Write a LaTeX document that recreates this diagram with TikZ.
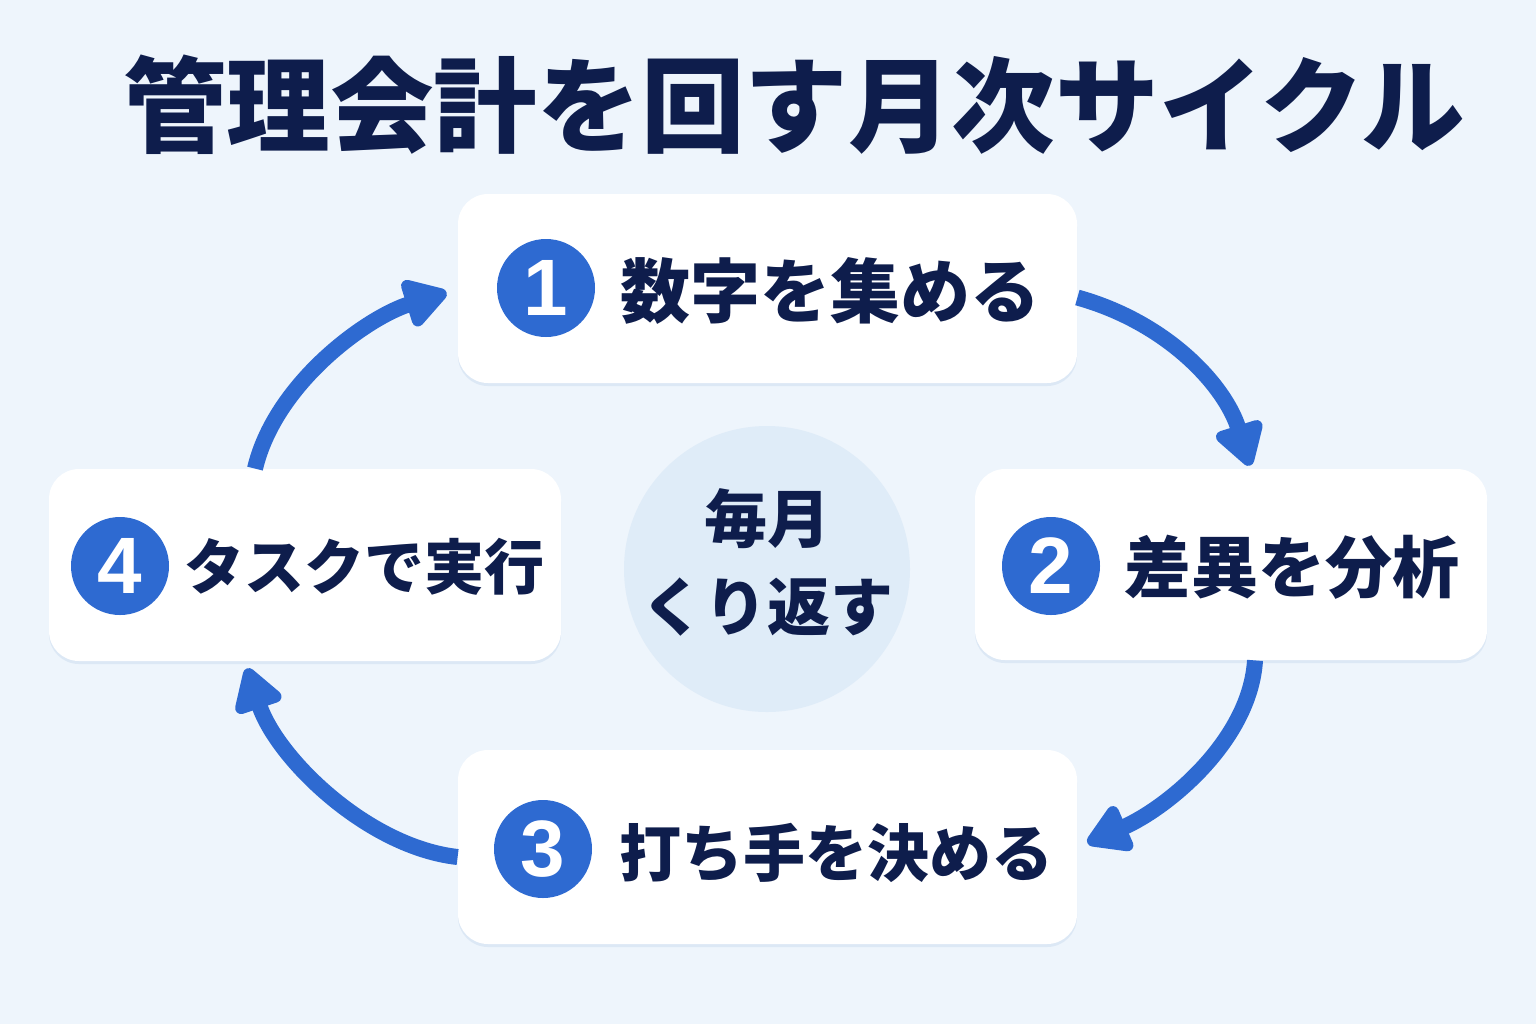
\documentclass[tikz,border=0pt]{standalone}
\usepackage{fontspec}
\setmainfont{Noto Sans CJK JP}
\newfontfamily\jp{Noto Sans CJK JP}
\newfontfamily\numfont{Liberation Sans}
\usetikzlibrary{arrows.meta,shadows,calc}
\definecolor{bgc}{HTML}{EEF5FC}
\definecolor{navy}{HTML}{0E1D4C}
\definecolor{flowblue}{HTML}{2E6AD1}
\definecolor{circfill}{HTML}{DFECF8}
\definecolor{shadowc}{HTML}{C3D6EC}
\tikzset{
  card/.style={draw=none, fill=white, rounded corners=15pt, inner sep=0pt,
    drop shadow={shadow xshift=0pt, shadow yshift=-1.5pt, opacity=0.4, fill=shadowc}},
  numcirc/.style={circle, fill=flowblue, minimum size=49pt, inner sep=0pt,
    text=white, font=\numfont\bfseries\fontsize{40}{40}\selectfont},
  cardtext/.style={anchor=west, inner sep=0pt, text=navy},
  flowarrow/.style={draw=flowblue, line width=8pt,
    -{Triangle[length=24pt, width=27pt, round]}},
}
\begin{document}
\begin{tikzpicture}[x=0.5pt, y=-0.5pt]
\useasboundingbox (0,0) rectangle (1536,1024);
\fill[bgc] (0,0) rectangle (1536,1024);

% title
\node[text=navy, inner sep=0pt, font=\jp\bfseries\fontsize{51.8}{51.8}\selectfont] (title) at (794,105) {管理会計を回す月次サイクル};

% center circle
\node[circle, fill=circfill, minimum size=143pt, inner sep=0pt] (c) at (767,569) {};
\node[text=navy, inner sep=0pt, align=center, font=\jp\bfseries\fontsize{31.5}{44}\selectfont] (ct) at (767,562) {毎月\\くり返す};

% cards
\node[card, minimum width=309.5pt, minimum height=94.5pt] (b1) at (767.5,288.5) {};
\node[card, minimum width=256pt, minimum height=95.5pt] (b2) at (1231,564.5) {};
\node[card, minimum width=309.5pt, minimum height=97pt] (b3) at (767.5,847) {};
\node[card, minimum width=256pt, minimum height=96pt] (b4) at (305,565) {};

% number circles
\node[numcirc] (n1) at (546,288) {1};
\node[numcirc] (n2) at (1051,566) {2};
\node[numcirc] (n3) at (543,849) {3};
\node[numcirc] (n4) at (120,566) {4};

% card texts
\node[cardtext, font=\jp\bfseries\fontsize{35}{35}\selectfont] (t1) at (620,291) {数字を集める};
\node[cardtext, font=\jp\bfseries\fontsize{33.5}{33.5}\selectfont] (t2) at (1124,567) {差異を分析};
\node[cardtext, font=\jp\bfseries\fontsize{31}{31}\selectfont] (t3) at (619,853) {打ち手を決める};
\node[cardtext, font=\jp\bfseries\fontsize{30}{30}\selectfont] (t4) at (184,567) {タスクで実行};

% flow arrows
\draw[flowarrow] ($(b1.east)+(0,9)$) .. controls +(90,25) and +(-25,-80) .. ($(b2.north)+(19,-3)$);
\draw[flowarrow] ($(b2.south)+(24,0)$) .. controls +(-5,80) and +(80,-35) .. ($(b3.east)+(10,-4)$);
\draw[flowarrow] ($(b3.west)+(0,10)$) .. controls +(-90,-10) and +(30,90) .. ($(b4.south)+(-58,7)$);
\draw[flowarrow] ($(b4.north)+(-50,0)$) .. controls +(20,-85) and +(-80,25) .. ($(b1.west)+(-11,4)$);
\end{tikzpicture}
\end{document}
